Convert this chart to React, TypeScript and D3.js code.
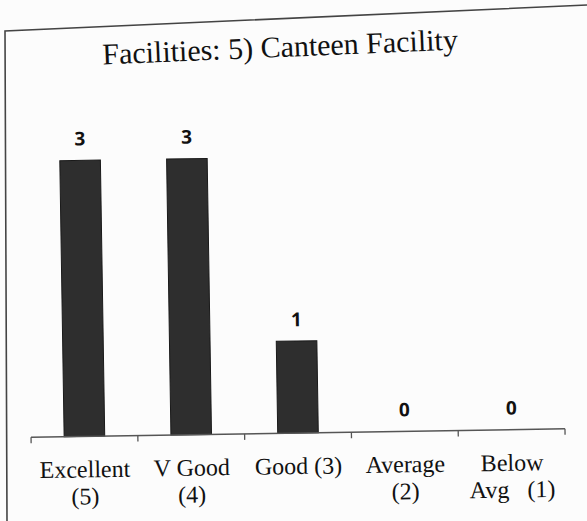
import React from "react";
import * as d3 from "d3";

const categories = ["Excellent (5)", "V Good (4)", "Good (3)", "Average (2)", "Below Avg (1)"];
const labelLines = [["Excellent", "(5)"], ["V Good", "(4)"], ["Good (3)"], ["Average", "(2)"], ["Below", "Avg   (1)"]];
const values = [3, 3, 1, 0, 0];
const title = "Facilities: 5) Canteen Facility";

const W = 587;
const H = 521;

export default function App() {
  const x = d3.scaleBand<string>().domain(categories).range([31, 565]).paddingInner(0.62).paddingOuter(0.31);
  const y = d3.scaleLinear().domain([0, 3]).range([433, 157]);
  const step = x.step();
  const tickXs = categories.map((c) => (x(c) as number) - (step - x.bandwidth()) / 2);
  tickXs.push(tickXs[tickXs.length - 1] + step);

  return (
    <svg width={W} height={H} style={{ position: "absolute", left: 0, top: 0, background: "#fcfcfc" }}>
      <path d="M7,521 L5,31 L587,5" fill="none" stroke="#444" strokeWidth={1.6} />
      <text
        x={280}
        y={57}
        textAnchor="middle"
        fontFamily="'Liberation Serif', serif"
        fontSize={30}
        fill="#111"
        transform="rotate(-2.4 280 46)"
      >
        {title}
      </text>
      <g transform="rotate(-0.9 300 433)">
        {categories.map((c, i) => (
          <rect
            key={c}
            x={x(c)}
            y={y(values[i])}
            width={x.bandwidth()}
            height={y(0) - y(values[i])}
            fill="#2e2e2e"
            stroke="#1a1a1a"
            strokeWidth={1}
          />
        ))}
        <line x1={tickXs[0]} x2={tickXs[tickXs.length - 1]} y1={y(0)} y2={y(0)} stroke="#555" strokeWidth={1.5} />
        {tickXs.map((t, i) => (
          <line key={i} x1={t} x2={t} y1={y(0)} y2={y(0) + 6} stroke="#555" strokeWidth={1.3} />
        ))}
        {categories.map((c, i) => (
          <text
            key={c}
            x={(x(c) as number) + x.bandwidth() / 2}
            y={y(values[i]) - 15}
            textAnchor="middle"
            fontFamily="'Open Sans', sans-serif"
            fontWeight={700}
            fontSize={19}
            fill="#111"
          >
            {values[i]}
          </text>
        ))}
        {labelLines.map((lines, i) => (
          <text
            key={i}
            textAnchor="middle"
            fontFamily="'Liberation Serif', serif"
            fontSize={24}
            fill="#111"
            style={{ whiteSpace: "pre" }}
          >
            {lines.map((l, j) => (
              <tspan key={j} x={(x(categories[i]) as number) + x.bandwidth() / 2} y={y(0) + 41 + j * 27}>
                {l}
              </tspan>
            ))}
          </text>
        ))}
      </g>
    </svg>
  );
}
